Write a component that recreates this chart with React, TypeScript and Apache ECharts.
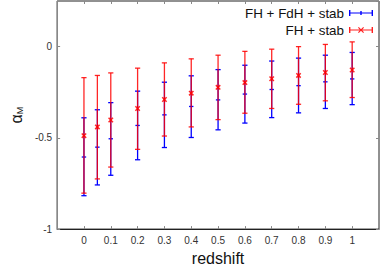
import React, { useEffect, useRef } from "react";
import * as echarts from "echarts";

const redshift = [0, 0.05, 0.1, 0.2, 0.3, 0.4, 0.5, 0.6, 0.7, 0.8, 0.9, 1.0];

const blueCenter = [-0.605, -0.551, -0.505, -0.432, -0.374, -0.328, -0.292, -0.26, -0.235, -0.214, -0.193, -0.177];
const blueHigh = [-0.39, -0.346, -0.307, -0.244, -0.195, -0.16, -0.126, -0.102, -0.079, -0.063, -0.047, -0.032];
const blueLow = [-0.817, -0.758, -0.705, -0.62, -0.553, -0.498, -0.456, -0.419, -0.389, -0.363, -0.339, -0.318];

const redCenter = [-0.488, -0.44, -0.402, -0.339, -0.29, -0.255, -0.223, -0.197, -0.176, -0.158, -0.142, -0.128];
const redHigh = [-0.17, -0.158, -0.144, -0.118, -0.089, -0.067, -0.047, -0.026, -0.014, 0.0, 0.012, 0.026];
const redLow = [-0.803, -0.725, -0.66, -0.563, -0.49, -0.44, -0.4, -0.365, -0.339, -0.316, -0.297, -0.279];

const seriesNames = ["FH + FdH + stab", "FH + stab"];

const FONT = "Liberation Sans, Arial, sans-serif";

const blueIcon =
  "path://M0 0H1.4V6H0Z M22.6 0H24V6H22.6Z M0 2.4H24V3.6H0Z M11.3 1H12.7V5H11.3Z";
const redIcon =
  "path://M0 0H1.4V6H0Z M22.6 0H24V6H22.6Z M0 2.4H24V3.6H0Z M9 0.8L9.8 0L15 5.2L14.2 6Z M14.2 0L15 0.8L9.8 6L9 5.2Z";

function makeRender(color: string, marker: "dash" | "cross", opacity: number) {
  return (params: any, api: any) => {
    const x = api.value(0);
    const c = api.value(1);
    const lo = api.value(2);
    const hi = api.value(3);
    const pHi = api.coord([x, hi]);
    const pLo = api.coord([x, lo]);
    const pC = api.coord([x, c]);
    const cw = 2.6;
    const style = { stroke: color, lineWidth: 1.3, opacity };
    const children: any[] = [
      { type: "line", shape: { x1: pHi[0], y1: pHi[1], x2: pLo[0], y2: pLo[1] }, style },
      { type: "line", shape: { x1: pHi[0] - cw, y1: pHi[1], x2: pHi[0] + cw, y2: pHi[1] }, style },
      { type: "line", shape: { x1: pLo[0] - cw, y1: pLo[1], x2: pLo[0] + cw, y2: pLo[1] }, style },
    ];
    if (marker === "dash") {
      children.push({
        type: "line",
        shape: { x1: pC[0] - 2.2, y1: pC[1], x2: pC[0] + 2.2, y2: pC[1] },
        style,
      });
    } else {
      const m = 2.2;
      children.push({
        type: "line",
        shape: { x1: pC[0] - m, y1: pC[1] - m, x2: pC[0] + m, y2: pC[1] + m },
        style: { ...style, lineWidth: 1.5 },
      });
      children.push({
        type: "line",
        shape: { x1: pC[0] - m, y1: pC[1] + m, x2: pC[0] + m, y2: pC[1] - m },
        style: { ...style, lineWidth: 1.5 },
      });
    }
    return { type: "group", children };
  };
}

export default function App() {
  const ref = useRef<HTMLDivElement>(null);
  useEffect(() => {
    if (!ref.current) return;
    const chart = echarts.init(ref.current, null, { renderer: "svg" });
    const blueData = redshift.map((x, i) => [x, blueCenter[i], blueLow[i], blueHigh[i]]);
    const redData = redshift.map((x, i) => [x, redCenter[i], redLow[i], redHigh[i]]);
    const tickStyle = { show: true, inside: true, length: 3, lineStyle: { color: "#888", width: 1 } };
    const xBase = {
      type: "value" as const,
      min: -0.1,
      max: 1.1,
      interval: 0.1,
      splitLine: { show: false },
      axisTick: tickStyle,
    };
    const yBase = {
      type: "value" as const,
      min: -1,
      max: 0.25,
      interval: 0.5,
      splitLine: { show: false },
      axisTick: tickStyle,
    };
    chart.setOption({
      animation: false,
      backgroundColor: "#fff",
      grid: { left: 44, right: 2, top: 1, bottom: 33, show: true, borderColor: "#222", borderWidth: 1 },
      legend: {
        orient: "vertical",
        right: 8,
        top: 6,
        padding: 0,
        align: "right",
        itemWidth: 24,
        itemHeight: 6,
        itemGap: 3,
        textStyle: { fontFamily: FONT, fontSize: 13.4, color: "#111", lineHeight: 14 },
        data: [
          { name: seriesNames[0], icon: blueIcon },
          { name: seriesNames[1], icon: redIcon },
        ],
      },
      xAxis: [
        {
          ...xBase,
          position: "bottom",
          name: "redshift",
          nameLocation: "middle",
          nameGap: 11,
          nameTextStyle: { fontFamily: FONT, fontSize: 16, color: "#111" },
          axisLine: { show: true, onZero: false, lineStyle: { color: "#222", width: 1 } },
          axisLabel: {
            showMinLabel: false,
            showMaxLabel: false,
            fontFamily: FONT,
            fontSize: 10,
            color: "#333",
            margin: 6,
            formatter: (v: number) => String(Math.round(v * 10) / 10),
          },
        },
        {
          ...xBase,
          position: "top",
          axisLine: { show: false, onZero: false },
          axisLabel: { show: false },
        },
      ],
      yAxis: [
        {
          ...yBase,
          position: "left",
          name: "{a|α}{s|M}",
          nameLocation: "middle",
          nameGap: 27,
          nameTextStyle: {
            rich: {
              a: { fontFamily: FONT, fontSize: 16, color: "#111" },
              s: { fontFamily: FONT, fontSize: 9, color: "#111", padding: [7, 0, 0, 0] },
            },
          },
          axisLine: { show: true, onZero: false, lineStyle: { color: "#888", width: 1 } },
          axisLabel: {
            showMaxLabel: false,
            fontFamily: FONT,
            fontSize: 10,
            color: "#333",
            margin: 5,
            formatter: (v: number) => String(Math.round(v * 10) / 10),
          },
        },
        {
          ...yBase,
          position: "right",
          axisLine: { show: false, onZero: false },
          axisLabel: { show: false },
        },
      ],
      series: [
        {
          name: seriesNames[0],
          type: "custom",
          xAxisIndex: 0,
          yAxisIndex: 0,
          itemStyle: { color: "#0000ff" },
          renderItem: makeRender("#0000ff", "dash", 1),
          data: blueData,
          encode: { x: 0, y: [1, 2, 3] },
          z: 2,
        },
        {
          name: seriesNames[1],
          type: "custom",
          xAxisIndex: 0,
          yAxisIndex: 0,
          itemStyle: { color: "#ff2020" },
          renderItem: makeRender("#ff0000", "cross", 0.85),
          data: redData,
          encode: { x: 0, y: [1, 2, 3] },
          z: 3,
        },
      ],
    });
    return () => chart.dispose();
  }, []);
  return (
    <div
      ref={ref}
      style={{ position: "absolute", left: 0, top: 0, width: 381, height: 271 }}
    />
  );
}
